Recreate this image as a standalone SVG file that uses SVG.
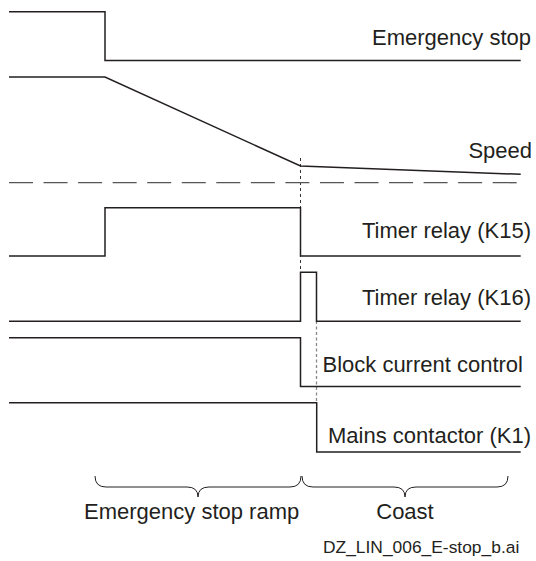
<svg xmlns="http://www.w3.org/2000/svg" width="536" height="561" viewBox="0 0 536 561">
<style>
.sig{fill:none;stroke:#231f20;stroke-width:1.5;stroke-linejoin:miter}
.lbl{font-family:"Liberation Sans",Arial,sans-serif;font-size:22px;fill:#231f20}
.end{text-anchor:end}
.brace{fill:none;stroke:#231f20;stroke-width:1}
.dash{fill:none;stroke:#555;stroke-width:1.3;stroke-dasharray:24 10.55}
.dot1{fill:none;stroke:#333;stroke-width:1;stroke-dasharray:3 3}
.dot2{fill:none;stroke:#888;stroke-width:1.3;stroke-dasharray:3 2.5}
</style>
<rect width="536" height="561" fill="#fff"/>
<g id="connectors">
<path class="dot1" d="M300.5,158 V272"/>
<path class="dot2" d="M316.5,321 V402"/>
</g>
<g id="emergency-stop">
<path class="sig" d="M9,11.7 H105 V60.5 H520.7"/>
<text class="lbl end" x="531" y="45">Emergency stop</text>
</g>
<g id="speed">
<path class="sig" d="M9,77 H105 L300.5,166 L520.7,174.3"/>
<text class="lbl end" x="532" y="158">Speed</text>
<path class="dash" d="M9,182.7 H517"/>
</g>
<g id="timer-relay-k15">
<path class="sig" d="M9,256 H105 V207.7 H300.5 V256 H520.7"/>
<text class="lbl end" x="531" y="238">Timer relay (K15)</text>
</g>
<g id="timer-relay-k16">
<path class="sig" d="M9,321.3 H300.5 V272.3 H316.5 V321.3 H520.7"/>
<text class="lbl end" x="531" y="305">Timer relay (K16)</text>
</g>
<g id="block-current-control">
<path class="sig" d="M9,337.7 H300.5 V386.5 H520.7"/>
<text class="lbl end" x="523" y="372">Block current control</text>
</g>
<g id="mains-contactor">
<path class="sig" d="M9,402.7 H316.7 V452 H520.7"/>
<text class="lbl end" x="531" y="443">Mains contactor (K1)</text>
</g>
<g id="ramp-brace">
<path class="brace" d="M95,476 Q95,487 106,487 H187 Q198,487 198,497 Q198,487 209,487 H290 Q301,487 301,476"/>
<text class="lbl" x="84" y="519">Emergency stop ramp</text>
</g>
<g id="coast-brace">
<path class="brace" d="M302,476 Q302,487 313,487 H394 Q405,487 405,497 Q405,487 416,487 H497 Q508,487 508,476"/>
<text class="lbl" x="405" y="519" text-anchor="middle">Coast</text>
</g>
<text x="323" y="552.5" font-family="Liberation Sans,Arial,sans-serif" font-size="17.4" fill="#231f20">DZ_LIN_006_E-stop_b.ai</text>
</svg>
